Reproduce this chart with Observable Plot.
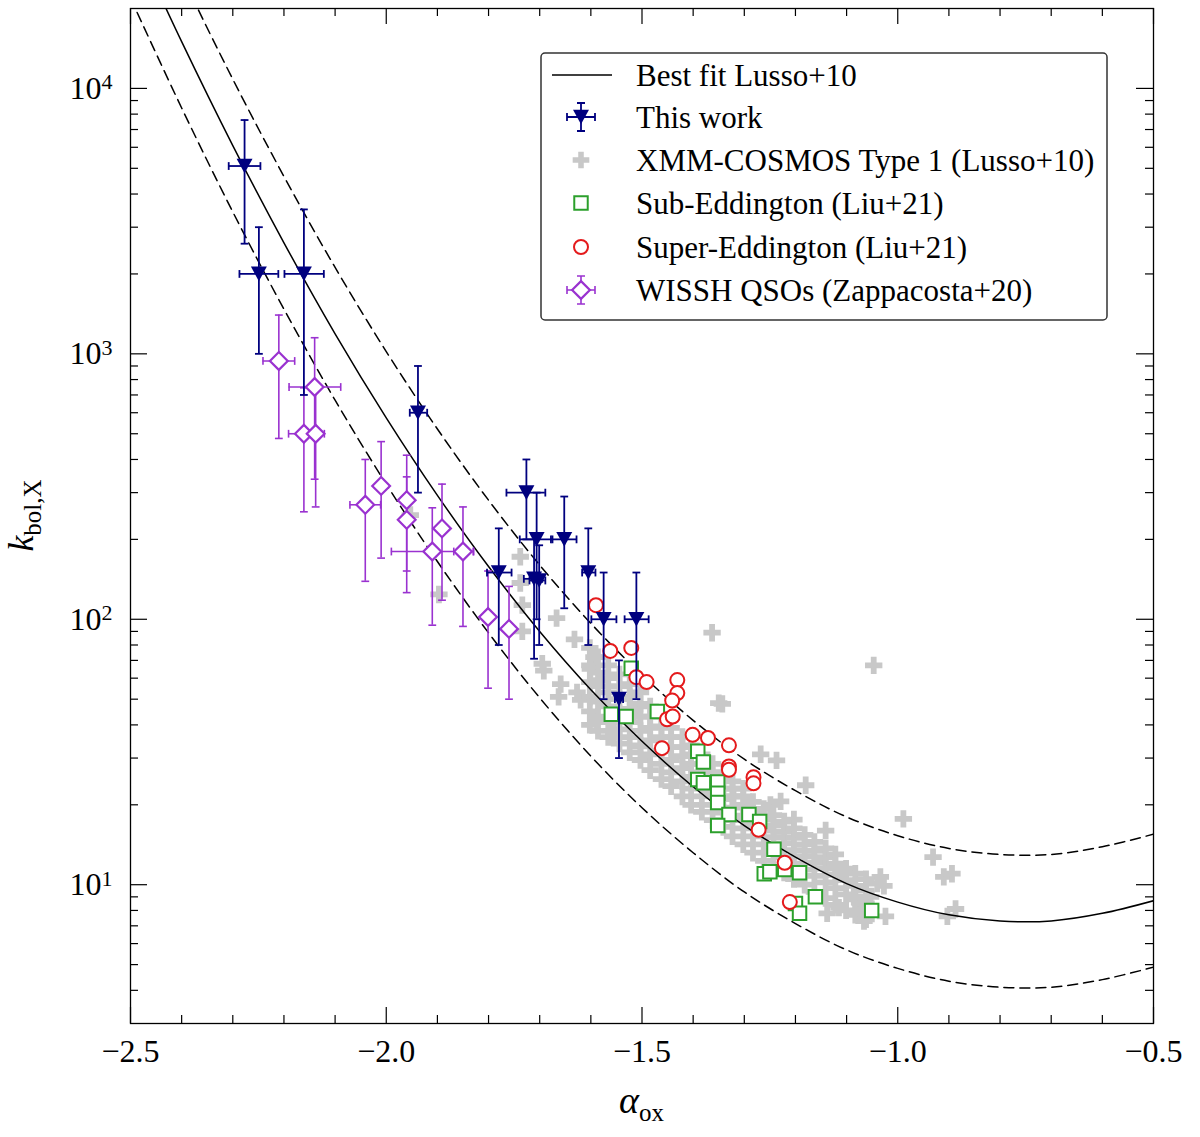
<!DOCTYPE html>
<html>
<head>
<meta charset="utf-8">
<script src="https://cdn.jsdelivr.net/npm/d3@7"></script>
<script src="https://cdn.jsdelivr.net/npm/@observablehq/plot@0.6"></script>
<style>
  body { margin: 0; background: #fff; }
  #chart svg { display: block; }
</style>
</head>
<body>
<div id="chart"></div>
<script>

// best fit Lusso+10 and its +/- scatter
const fitAlpha = [-2.5, -2.4, -2.3, -2.2, -2.1, -2.0, -1.9, -1.8, -1.7, -1.6, -1.5, -1.4, -1.3, -1.2, -1.1, -1.0, -0.9, -0.8, -0.7, -0.6, -0.5]
const fitK     = [39000, 15000, 6090, 2620, 1190, 574, 293, 158, 90, 54.3, 34.7, 23.4, 16.7, 12.7, 10.1, 8.6, 7.7, 7.3, 7.3, 7.8, 8.7]
const fitUpper = [69300, 26700, 10830, 4660, 2116, 1020, 521, 281, 160, 96.5, 61.7, 41.6, 29.7, 22.6, 18.0, 15.3, 13.7, 13.0, 13.0, 13.9, 15.5]
const fitLower = [21900, 8440, 3425, 1474, 669, 323, 165, 88.9, 50.6, 30.5, 19.5, 13.2, 9.39, 7.14, 5.68, 4.84, 4.33, 4.11, 4.11, 4.39, 4.89]

// This work
const thisAlpha = [-2.277, -2.249, -2.161, -1.938, -1.726, -1.706, -1.652, -1.780, -1.711, -1.701, -1.605, -1.575, -1.511, -1.545]
const thisK     = [5100, 2000, 2000, 600, 300, 200, 200, 150, 142, 140, 150, 100, 100, 50]
const thisKlo   = [2600, 1000, 700, 300, 200, 100, 110, 80, 71, 80, 80, 50, 50, 30]
const thisKhi   = [7600, 3000, 3500, 900, 400, 300, 290, 220, 200, 190, 220, 150, 150, 70]
const thisAlo   = [-2.308, -2.287, -2.199, -1.954, -1.765, -1.739, -1.678, -1.803, -1.731, -1.720, -1.617, -1.599, -1.534, -1.553]
const thisAhi   = [-2.246, -2.211, -2.122, -1.920, -1.689, -1.675, -1.628, -1.755, -1.695, -1.689, -1.591, -1.550, -1.487, -1.537]

// WISSH QSOs (Zappacosta+20)
const wisshAlpha = [-2.210, -2.140, -2.161, -2.138, -2.041, -2.010, -1.960, -1.960, -1.910, -1.891, -1.850, -1.801, -1.760]
const wisshK     = [940, 750, 500, 500, 270, 318, 281, 237, 180, 220, 180, 102, 92]
const wisshKlo   = [480, 337, 254, 265, 139, 170, 152, 126, 95, 118, 94, 55, 50]
const wisshKhi   = [1400, 1150, 745, 735, 400, 467, 415, 344, 263, 323, 265, 152, 133]
const wisshAlo   = [-2.241, -2.190, -2.191, -2.150, -2.071, -2.020, -1.970, -1.970, -1.990, -1.900, -1.868, -1.811, -1.770]
const wisshAhi   = [-2.179, -2.089, -2.150, -2.121, -2.011, -2.000, -1.950, -1.950, -1.829, -1.881, -1.830, -1.791, -1.750]

// Sub-Eddington (Liu+21)
const subAlpha = [-1.521, -1.560, -1.531, -1.470, -1.391, -1.380, -1.391, -1.380, -1.352, -1.352, -1.352, -1.330, -1.352, -1.291, -1.270, -1.242, -1.261, -1.250, -1.221, -1.192, -1.161, -1.200, -1.192, -1.051]
const subK     = [65.4, 43.9, 43, 44.9, 31.8, 29, 24.9, 24.2, 24.4, 22.1, 20.4, 18.4, 16.7, 18.4, 17.3, 13.6, 11.0, 11.2, 11.4, 11.1, 9.0, 8.5, 7.8, 8.0]

// Super-Eddington (Liu+21)
const superAlpha = [-1.590, -1.562, -1.521, -1.511, -1.491, -1.431, -1.431, -1.441, -1.451, -1.440, -1.461, -1.401, -1.371, -1.330, -1.330, -1.330, -1.282, -1.282, -1.272, -1.221, -1.211]
const superK     = [113, 76, 78, 60.5, 58, 59, 52.7, 49.4, 42, 43, 32.7, 36.7, 35.7, 33.5, 27.9, 27.1, 25.4, 24.1, 16.1, 12.1, 8.6]

// XMM-COSMOS Type 1 (Lusso+10): [alpha_ox, k_bol,X]
const cosmosPoints = [
  [-1.897, 124], [-1.953, 247], [-1.738, 172], [-1.738, 137], [-1.734, 113], [-1.667, 101], [-1.734, 90],
  [-1.632, 84], [-1.695, 68], [-1.692, 64], [-1.659, 57], [-1.663, 51], [-1.627, 53], [-1.363, 89],
  [-1.047, 67], [-1.343, 48], [-1.268, 31], [-1.237, 29.4], [-1.180, 23.7], [-0.989, 17.7], [-0.931, 12.7],
  [-0.910, 10.7], [-0.894, 11.0], [-0.887, 8.1], [-0.903, 7.6], [-1.141, 16], [-1.034, 10.7], [-1.027, 9.9],
  [-1.040, 10.1], [-1.024, 7.6], [-1.066, 7.3], [-1.138, 7.8], [-1.115, 8.2], [-1.109, 11.4], [-1.086, 9.0],
  [-1.073, 8.5], [-1.053, 9.0], [-1.203, 17.6], [-1.249, 20], [-1.229, 20.6], [-1.321, 21.5], [-1.588, 41.8],
  [-1.517, 44.4], [-1.620, 49.7], [-1.555, 37.3], [-1.503, 33.2], [-1.594, 72], [-1.601, 65], [-1.581, 59],
  [-1.350, 48.3],
  [-1.602, 40], [-1.602, 45], [-1.602, 51], [-1.602, 58], [-1.602, 67], [-1.602, 78],
  [-1.586, 38], [-1.586, 43], [-1.586, 49], [-1.586, 56], [-1.586, 63], [-1.586, 72],
  [-1.566, 36], [-1.566, 41], [-1.566, 47], [-1.566, 53], [-1.566, 60], [-1.566, 67],
  [-1.544, 34], [-1.544, 38.5], [-1.544, 44], [-1.544, 50], [-1.544, 56], [-1.544, 62],
  [-1.524, 31.5], [-1.524, 36], [-1.524, 41], [-1.524, 46], [-1.524, 51], [-1.524, 57],
  [-1.503, 29.5], [-1.503, 33.5], [-1.503, 38], [-1.503, 43], [-1.503, 48], [-1.503, 53],
  [-1.484, 27], [-1.484, 31], [-1.484, 35], [-1.484, 39], [-1.484, 43], [-1.484, 47],
  [-1.462, 25], [-1.462, 28.5], [-1.462, 32], [-1.462, 36], [-1.462, 39.5], [-1.462, 43],
  [-1.443, 23.5], [-1.443, 26.5], [-1.443, 29.5], [-1.443, 33], [-1.443, 36], [-1.443, 39],
  [-1.421, 21.5], [-1.421, 24.5], [-1.421, 27.5], [-1.421, 30.5], [-1.421, 33], [-1.421, 36],
  [-1.404, 20], [-1.404, 23], [-1.404, 25.5], [-1.404, 28.5], [-1.404, 31], [-1.404, 33.5],
  [-1.383, 18.8], [-1.383, 21.5], [-1.383, 24], [-1.383, 26.5], [-1.383, 28.5], [-1.383, 31],
  [-1.362, 17.5], [-1.362, 20], [-1.362, 22.3], [-1.362, 24.5], [-1.362, 26.5], [-1.362, 28.5],
  [-1.341, 16.5], [-1.341, 18.7], [-1.341, 21], [-1.341, 23], [-1.341, 25], [-1.341, 26.5],
  [-1.323, 15.2], [-1.323, 17.5], [-1.323, 19.5], [-1.323, 21.5], [-1.323, 23], [-1.323, 24.5],
  [-1.302, 14.2], [-1.302, 16.3], [-1.302, 18.2], [-1.302, 20], [-1.302, 21.5], [-1.302, 23],
  [-1.283, 13.2], [-1.283, 15.2], [-1.283, 17], [-1.283, 18.8], [-1.283, 20.5],
  [-1.262, 12.3], [-1.262, 14.2], [-1.262, 16], [-1.262, 17.6], [-1.262, 19.3],
  [-1.243, 11.7], [-1.243, 13.4], [-1.243, 15.1], [-1.243, 16.7], [-1.243, 18.3],
  [-1.222, 11.1], [-1.222, 12.7], [-1.222, 14.3], [-1.222, 15.8], [-1.222, 17.3],
  [-1.203, 10.5], [-1.203, 12], [-1.203, 13.5], [-1.203, 15], [-1.203, 16.3],
  [-1.182, 10], [-1.182, 11.4], [-1.182, 12.8], [-1.182, 14.2], [-1.182, 15.4],
  [-1.163, 9.4], [-1.163, 10.8], [-1.163, 12.1], [-1.163, 13.4], [-1.163, 14.5],
  [-1.141, 8.9], [-1.141, 10.2], [-1.141, 11.5], [-1.141, 12.7], [-1.141, 13.7],
  [-1.122, 8.4], [-1.122, 9.7], [-1.122, 10.9], [-1.122, 12], [-1.122, 13],
  [-1.101, 8], [-1.101, 9.2], [-1.101, 10.4], [-1.101, 11.5],
  [-1.083, 7.7], [-1.083, 8.8], [-1.083, 9.9], [-1.083, 11],
  [-1.062, 7.4], [-1.062, 8.5], [-1.062, 9.5], [-1.062, 10.5]
]

// axis ticks
const xMajor = [-2.5, -2.0, -1.5, -1.0, -0.5]
const xMinor = [-2.4, -2.3, -2.2, -2.1, -1.9, -1.8, -1.7, -1.6, -1.4, -1.3, -1.2, -1.1, -0.9, -0.8, -0.7, -0.6]
const yMajor = [10, 100, 1000, 10000]
const yMinor = [4, 5, 6, 7, 8, 9, 20, 30, 40, 50, 60, 70, 80, 90, 200, 300, 400, 500, 600, 700, 800, 900,
                2000, 3000, 4000, 5000, 6000, 7000, 8000, 9000]

const legendLabels = ["Best fit Lusso+10", "This work", "XMM-COSMOS Type 1 (Lusso+10)",
                      "Sub-Eddington (Liu+21)", "Super-Eddington (Liu+21)", "WISSH QSOs (Zappacosta+20)"]

const W = 1200, H = 1137
const mT = 8, mB = 114, mL = 130, mR = 47
const PW = W - mL - mR, PH = H - mT - mB

const NAVY = "#00007f", PURPLE = "#9a32d0", GREEN = "#2ca02c", RED = "#e41a1c", GRAY = "#c8c8c8"

// custom symbols
const triDown = {draw(ctx, size) {
  const s = Math.sqrt(size)
  ctx.moveTo(-s / 2, -s * 0.46); ctx.lineTo(s / 2, -s * 0.46); ctx.lineTo(0, s * 0.46); ctx.closePath()
}}
const capH = {draw(ctx, size) { const w = Math.sqrt(size) / 2; ctx.moveTo(-w, 0); ctx.lineTo(w, 0) }}
const capV = {draw(ctx, size) { const w = Math.sqrt(size) / 2; ctx.moveTo(0, -w); ctx.lineTo(0, w) }}

const fitRows = fitAlpha.map((a, i) => ({a, k: fitK[i], up: fitUpper[i], lo: fitLower[i]}))
const thisRows = thisAlpha.map((a, i) => ({a, k: thisK[i], klo: thisKlo[i], khi: thisKhi[i], alo: thisAlo[i], ahi: thisAhi[i]}))
const wisshRows = wisshAlpha.map((a, i) => ({a, k: wisshK[i], klo: wisshKlo[i], khi: wisshKhi[i], alo: wisshAlo[i], ahi: wisshAhi[i]}))
const subRows = subAlpha.map((a, i) => ({a, k: subK[i]}))
const superRows = superAlpha.map((a, i) => ({a, k: superK[i]}))

function errorBars(rows, color, sw) {
  return [
    Plot.ruleX(rows, {x: "a", y1: "klo", y2: "khi", stroke: color, strokeWidth: sw}),
    Plot.ruleY(rows, {y: "k", x1: "alo", x2: "ahi", stroke: color, strokeWidth: sw}),
    Plot.dot(rows, {x: "a", y: "klo", symbol: capH, r: 4.4, fill: "none", stroke: color, strokeWidth: sw}),
    Plot.dot(rows, {x: "a", y: "khi", symbol: capH, r: 4.4, fill: "none", stroke: color, strokeWidth: sw}),
    Plot.dot(rows, {x: "alo", y: "k", symbol: capV, r: 4.4, fill: "none", stroke: color, strokeWidth: sw}),
    Plot.dot(rows, {x: "ahi", y: "k", symbol: capV, r: 4.4, fill: "none", stroke: color, strokeWidth: sw})
  ]
}

const chart = Plot.plot({
  width: W,
  height: H,
  marginTop: mT,
  marginBottom: mB,
  marginLeft: mL,
  marginRight: mR,
  style: {fontFamily: "'Liberation Serif', serif", fontSize: "32px", background: "white", color: "black"},
  x: {domain: [-2.5, -0.5]},
  y: {type: "log", domain: [3, 20000]},
  marks: [
    Plot.dot(cosmosPoints, {x: d => d[0], y: d => d[1], symbol: "cross", r: 7.3, fill: GRAY}),

    Plot.line(fitRows, {x: "a", y: "k", curve: "catmull-rom", stroke: "black", strokeWidth: 1.5, clip: true}),
    Plot.line(fitRows, {x: "a", y: "up", curve: "catmull-rom", stroke: "black", strokeWidth: 1.5, strokeDasharray: "10,6", clip: true}),
    Plot.line(fitRows, {x: "a", y: "lo", curve: "catmull-rom", stroke: "black", strokeWidth: 1.5, strokeDasharray: "10,6", clip: true}),

    Plot.dot(subRows, {x: "a", y: "k", symbol: "square", r: 7.6, fill: "white", stroke: GREEN, strokeWidth: 2}),
    Plot.dot(superRows, {x: "a", y: "k", symbol: "circle", r: 7, fill: "white", stroke: RED, strokeWidth: 2}),

    ...errorBars(wisshRows, PURPLE, 1.6),
    Plot.dot(wisshRows, {x: "a", y: "k", symbol: "diamond2", r: 8, fill: "white", stroke: PURPLE, strokeWidth: 2.2}),

    ...errorBars(thisRows, NAVY, 1.8),
    Plot.dot(thisRows, {x: "a", y: "k", symbol: triDown, r: 9, fill: NAVY}),

    // inward ticks on all four sides
    Plot.tickX(xMajor, {x: d => d, insetTop: PH - 16, stroke: "black", strokeWidth: 1.2}),
    Plot.tickX(xMajor, {x: d => d, insetBottom: PH - 16, stroke: "black", strokeWidth: 1.2}),
    Plot.tickX(xMinor, {x: d => d, insetTop: PH - 8, stroke: "black", strokeWidth: 1.2}),
    Plot.tickX(xMinor, {x: d => d, insetBottom: PH - 8, stroke: "black", strokeWidth: 1.2}),
    Plot.tickY(yMajor, {y: d => d, insetRight: PW - 17, stroke: "black", strokeWidth: 1.2}),
    Plot.tickY(yMajor, {y: d => d, insetLeft: PW - 17, stroke: "black", strokeWidth: 1.2}),
    Plot.tickY(yMinor, {y: d => d, insetRight: PW - 8, stroke: "black", strokeWidth: 1.2}),
    Plot.tickY(yMinor, {y: d => d, insetLeft: PW - 8, stroke: "black", strokeWidth: 1.2}),

    Plot.axisX({ticks: xMajor, tickSize: 0, tickPadding: 16, label: null, fontSize: 32,
                tickFormat: d => (d < 0 ? "\u2212" : "") + Math.abs(d).toFixed(1)}),
    Plot.axisY({ticks: yMajor, tickSize: 0, tickPadding: 18, label: null, fontSize: 32,
                tickFormat: d => "10^" + Math.round(Math.log10(d))}),
    Plot.frame({stroke: "black", strokeWidth: 1.3})
  ]
})

const svg = d3.select(chart)

// superscripts on the log axis labels
svg.selectAll('g[aria-label="y-axis tick label"] text').each(function() {
  const t = this.textContent
  if (!t.includes("^")) return
  const [base, exp] = t.split("^")
  const el = d3.select(this)
  el.text(base)
  el.append("tspan").attr("dy", "-0.42em").attr("font-size", "22px").text(exp)
})

// axis titles
const xt = svg.append("text")
  .attr("x", mL + PW / 2).attr("y", 1113)
  .attr("text-anchor", "middle").attr("font-size", 38)
xt.append("tspan").attr("font-style", "italic").text("\u03b1")
xt.append("tspan").attr("font-size", 25).attr("dy", 8).text("ox")

const yt = svg.append("text")
  .attr("transform", `translate(33,${mT + PH / 2}) rotate(-90)`)
  .attr("text-anchor", "middle").attr("font-size", 36)
yt.append("tspan").attr("font-style", "italic").text("k")
yt.append("tspan").attr("font-size", 25).attr("dy", 8).text("bol,X")

// legend
const lg = svg.append("g").attr("text-anchor", "start")
lg.append("rect").attr("x", 541).attr("y", 53).attr("width", 566).attr("height", 267)
  .attr("rx", 4).attr("fill", "white").attr("stroke", "#333").attr("stroke-width", 1.5)
const rowY = [75, 117, 160, 203, 247, 290]
const sx = 581
legendLabels.forEach((label, i) => {
  lg.append("text").attr("x", 636).attr("y", rowY[i] + 11).attr("font-size", 31)
    .attr("text-anchor", "start").text(label)
})
lg.append("line").attr("x1", 552).attr("x2", 612).attr("y1", rowY[0]).attr("y2", rowY[0])
  .attr("stroke", "black").attr("stroke-width", 1.5)

function legendErr(y, color, sw) {
  lg.append("path").attr("stroke", color).attr("stroke-width", sw).attr("fill", "none")
    .attr("d", `M${sx},${y - 14}V${y + 14}M${sx - 14},${y}H${sx + 14}` +
    `M${sx - 4},${y - 14}H${sx + 4}M${sx - 4},${y + 14}H${sx + 4}` +
    `M${sx - 14},${y - 4}V${y + 4}M${sx + 14},${y - 4}V${y + 4}`)
}
legendErr(rowY[1], NAVY, 1.8)
lg.append("path").attr("transform", `translate(${sx},${rowY[1]})`)
  .attr("d", d3.symbol(triDown, Math.PI * 9 * 9)()).attr("fill", NAVY)
lg.append("path").attr("transform", `translate(${sx},${rowY[2]})`)
  .attr("d", d3.symbol(d3.symbolCross, Math.PI * 7 * 7)()).attr("fill", GRAY)
lg.append("path").attr("transform", `translate(${sx},${rowY[3]})`)
  .attr("d", d3.symbol(d3.symbolSquare, Math.PI * 7.6 * 7.6)()).attr("fill", "white")
  .attr("stroke", GREEN).attr("stroke-width", 2)
lg.append("circle").attr("cx", sx).attr("cy", rowY[4]).attr("r", 7).attr("fill", "white")
  .attr("stroke", RED).attr("stroke-width", 2)
legendErr(rowY[5], PURPLE, 1.6)
lg.append("path").attr("transform", `translate(${sx},${rowY[5]})`)
  .attr("d", d3.symbol(d3.symbolDiamond2, Math.PI * 8 * 8)()).attr("fill", "white")
  .attr("stroke", PURPLE).attr("stroke-width", 2.2)

document.getElementById("chart").append(chart)
</script>
</body>
</html>
